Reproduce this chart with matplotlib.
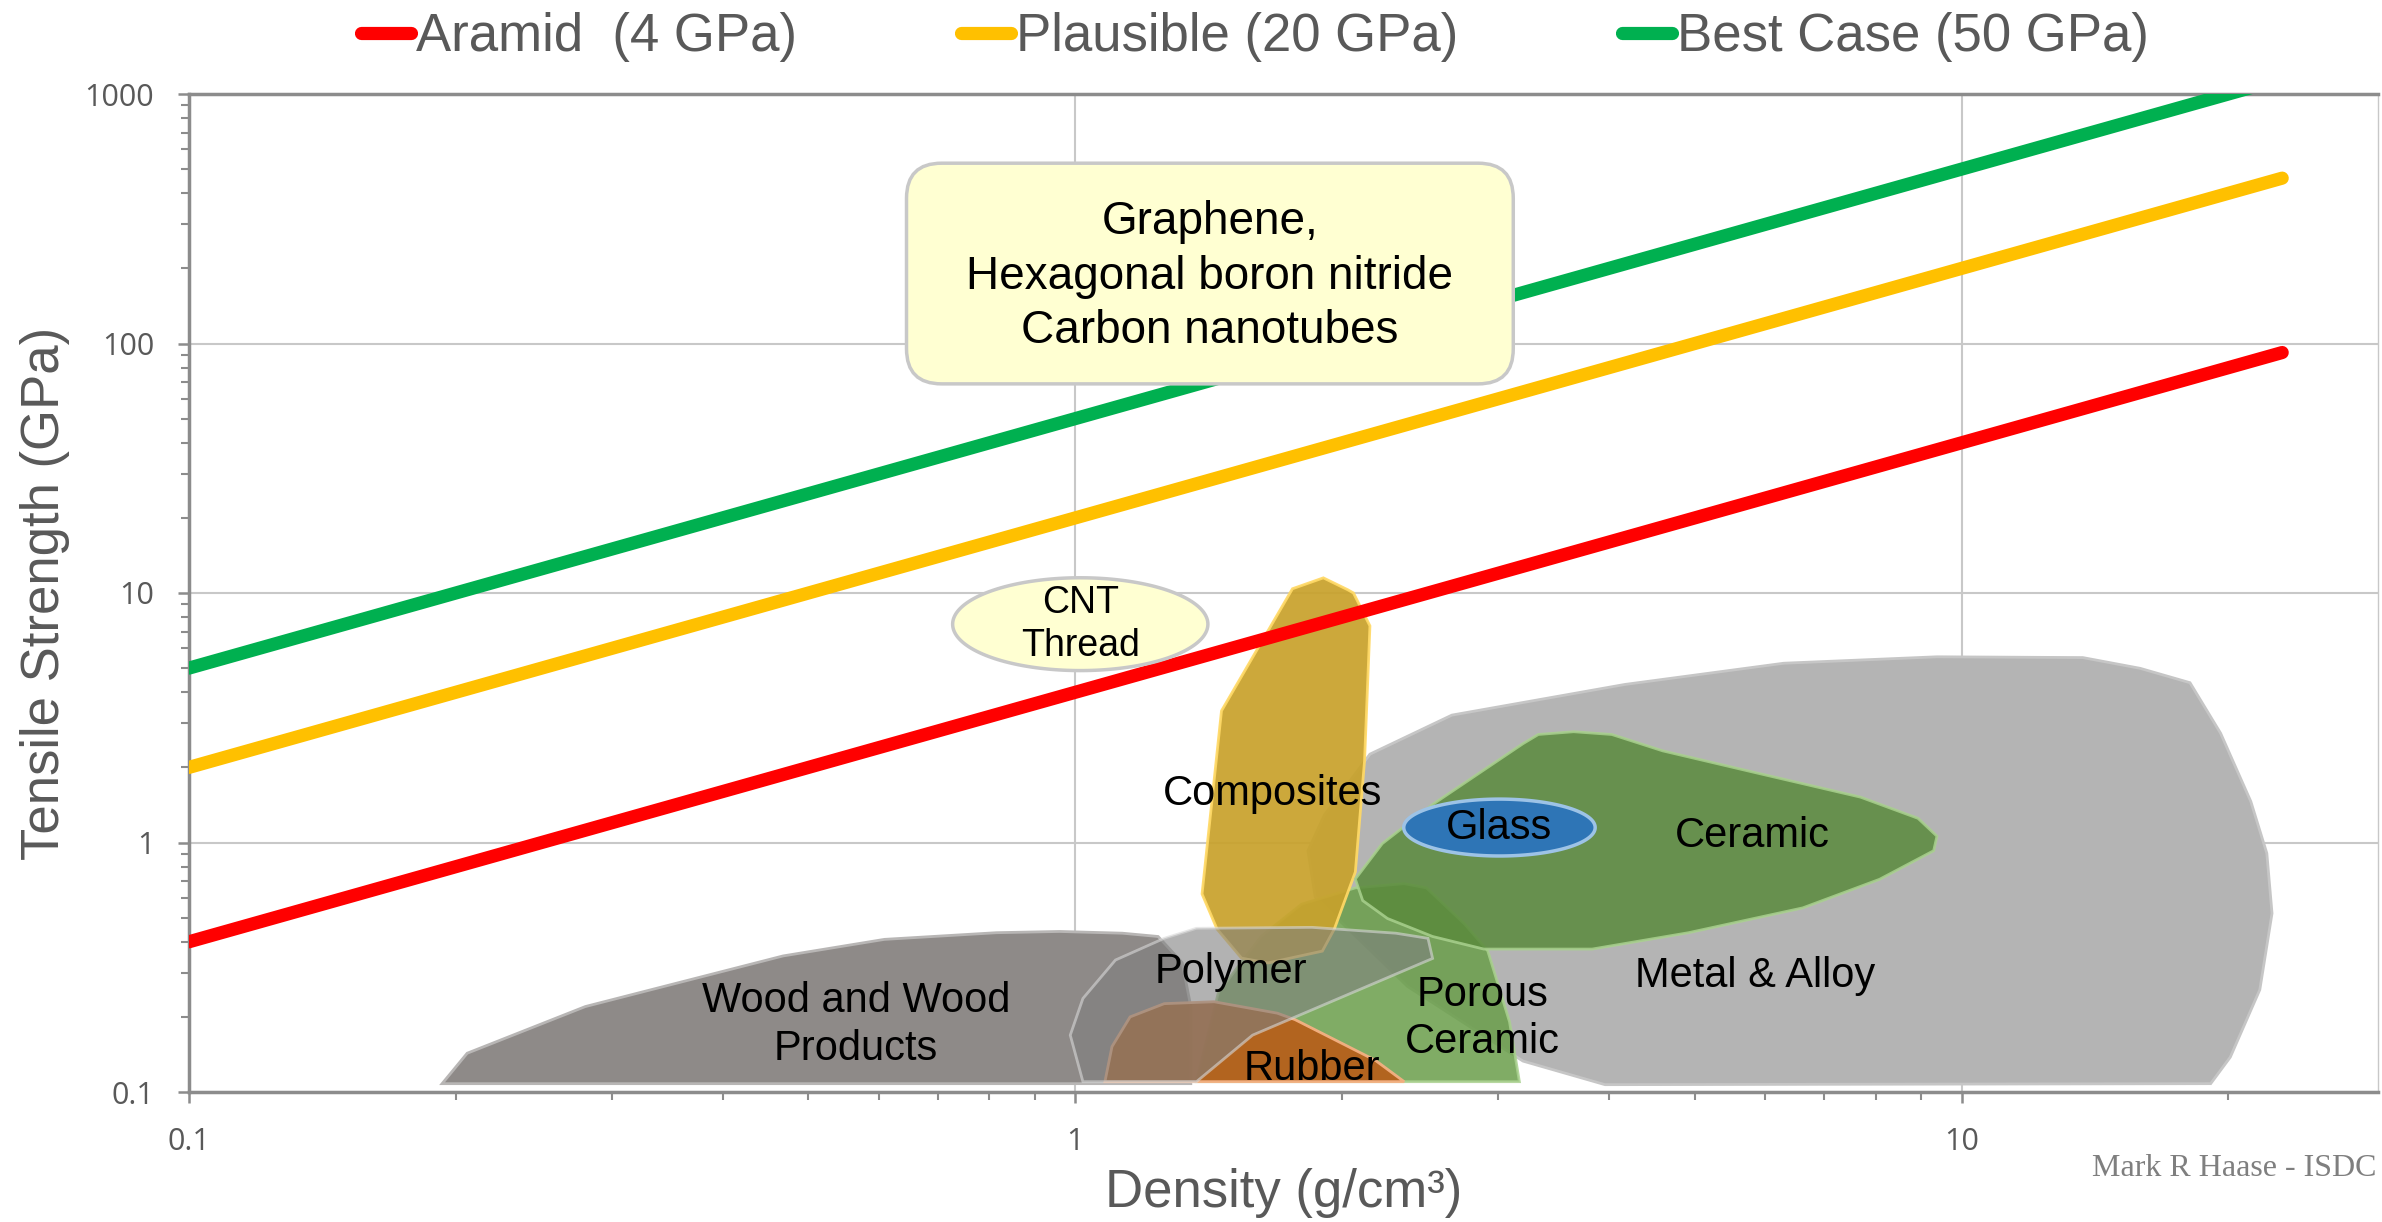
import numpy as np
import matplotlib
matplotlib.use("Agg")
from matplotlib import pyplot as plt
from matplotlib.patches import FancyBboxPatch
from matplotlib.lines import Line2D
from matplotlib.ticker import FixedLocator, LogLocator, FuncFormatter, NullFormatter

# reference lines: strength = specific strength * density
line_density = [0.1, 23]
aramid = [0.4, 92]
plausible = [2, 460]
best_case = [5, 1150]
line_names = ["Aramid  (4 GPa)", "Plausible (20 GPa)", "Best Case (50 GPa)"]

# material families, (density g/cm3, tensile strength GPa)
metal = [(2.15, 2.26), (2.66, 3.24), (4.17, 4.30), (6.30, 5.23), (9.38, 5.55), (13.7, 5.51),
         (15.9, 4.99), (18.1, 4.37), (19.6, 2.74), (21.2, 1.46), (22.1, 0.905), (22.4, 0.52),
         (21.7, 0.257), (20.1, 0.138), (19.1, 0.108), (3.96, 0.107), (3.20, 0.133),
         (2.37, 0.265), (1.865, 0.604), (1.83, 0.927), (1.91, 1.29)]
wood = [(0.193, 0.108), (0.206, 0.143), (0.28, 0.22), (0.468, 0.351), (0.609, 0.409),
        (0.815, 0.435), (0.96, 0.44), (1.13, 0.433), (1.24, 0.42), (1.32, 0.33),
        (1.35, 0.22), (1.35, 0.108)]
composites = [(1.905, 11.5), (1.758, 10.4), (1.462, 3.37), (1.39, 0.622), (1.445, 0.45),
              (1.54, 0.344), (1.65, 0.329), (1.90, 0.367), (1.96, 0.45), (2.07, 0.762),
              (2.12, 2.12), (2.15, 7.38), (2.06, 10.0), (2.03, 10.3)]
porous = [(3.17, 0.11), (3.09, 0.191), (2.92, 0.368), (2.75, 0.471), (2.49, 0.658),
          (2.35, 0.684), (2.07, 0.658), (1.80, 0.566), (1.62, 0.42), (1.45, 0.25), (1.37, 0.11)]
ceramic = [(2.07, 0.714), (2.11, 0.585), (2.25, 0.496), (2.53, 0.42), (2.89, 0.374),
           (3.83, 0.374), (4.92, 0.435), (6.62, 0.547), (8.08, 0.712), (9.3, 0.927),
           (9.38, 1.06), (8.93, 1.25), (7.69, 1.52), (5.80, 1.92), (4.60, 2.33), (4.03, 2.71),
           (3.65, 2.78), (3.33, 2.71), (3.20, 2.49), (2.53, 1.42), (2.22, 0.99)]
rubber = [(1.08, 0.11), (1.10, 0.152), (1.153, 0.2), (1.26, 0.226), (1.434, 0.23),
          (1.69, 0.207), (1.77, 0.195), (2.18, 0.134), (2.35, 0.11)]
polymer = [(1.02, 0.11), (0.987, 0.169), (1.02, 0.237), (1.11, 0.338), (1.26, 0.413),
           (1.37, 0.453), (1.85, 0.457), (2.30, 0.433), (2.50, 0.413), (2.53, 0.343),
           (1.585, 0.169), (1.37, 0.11)]

# ellipses: centre and half size in decades
glass_center = (3.01, 1.148)
glass_half = (0.108, 0.114)
cnt_center = (1.013, 7.5)
cnt_half = (0.144, 0.186)

region_labels = ["Composites", "Glass", "Ceramic", "Polymer", "Porous\nCeramic", "Rubber",
                 "Metal & Alloy", "Wood and Wood\nProducts"]
label_x = [1.67, 3.01, 5.80, 1.50, 2.88, 1.85, 5.85, 0.566]
label_y = [1.57, 1.148, 1.06, 0.303, 0.197, 0.124, 0.292, 0.186]

# graphene box corners (density, strength)
box_x = [0.645, 3.12]
box_y = [68.9, 528]

# tick labels use Open Sans, everything else names its family
plt.rcParams["font.family"] = ["Open Sans", "DejaVu Sans"]
plt.rcParams["xtick.labelsize"] = 22
plt.rcParams["ytick.labelsize"] = 22

W, H = 2382, 1222
fig = plt.figure(figsize=(W / 100, H / 100), dpi=100)
ax = fig.add_axes([189 / W, 1 - 1092 / H, (2378 - 189) / W, (1092 - 94) / H])
ax.set_xscale("log")
ax.set_yscale("log")
ax.set_xlim(0.1, 29.5)
ax.set_ylim(0.1, 1000)

gray = "#595959"
sans = "Liberation Sans"


def region(pts, fc, ec, alpha, z):
    xs = [p[0] for p in pts]
    ys = [p[1] for p in pts]
    ax.fill(xs, ys, facecolor=fc, edgecolor=ec, alpha=alpha, lw=2, zorder=z)


def ellipse(center, half, fc, ec, z):
    t = np.linspace(0, 2 * np.pi, 200)
    ex = 10 ** (np.log10(center[0]) + half[0] * np.cos(t))
    ey = 10 ** (np.log10(center[1]) + half[1] * np.sin(t))
    ax.fill(ex, ey, facecolor=fc, edgecolor=ec, lw=2.5, zorder=z)


region(metal, "#B4B4B4", "#C6C6C6", 1.0, 2)
region(wood, "#8E8A88", "#B8B6B5", 1.0, 3)
region(porous, "#6A9E4A", "#A9D18E", 0.85, 4)
region(composites, "#C8A22C", "#FFD966", 0.93, 5)
region(ceramic, "#5A8A3C", "#A9D18E", 0.85, 6)
region(rubber, "#B5601C", "#F4B183", 0.95, 7)
region(polymer, "#7F7F7F", "#D9D9D9", 0.6, 8)
ellipse(glass_center, glass_half, "#2E75B6", "#9DC3E6", 9)

colors = ["#FF0000", "#FFC000", "#00B050"]
for ys, c in zip([aramid, plausible, best_case], colors):
    ax.plot(line_density, ys, color=c, lw=9.5, solid_capstyle="round", zorder=11)

ellipse(cnt_center, cnt_half, "#FFFFD2", "#C8C8C8", 12)

for i in range(len(region_labels)):
    ax.text(label_x[i], label_y[i], region_labels[i], ha="center", va="center",
            fontsize=30, family=sans, color="black", zorder=10, linespacing=1.25)
ax.text(cnt_center[0], cnt_center[1], "CNT\nThread", ha="center", va="center",
        fontsize=27, family=sans, color="black", zorder=13, linespacing=1.25)

# graphene callout, drawn in axes fraction so the corners stay round
ax.figure.canvas.draw()
to_axes = ax.transScale + ax.transLimits
(bx0, by0) = to_axes.transform((box_x[0], box_y[0]))
(bx1, by1) = to_axes.transform((box_x[1], box_y[1]))
aspect = (2378 - 189) / (1092 - 94)
box = FancyBboxPatch((bx0, by0), bx1 - bx0, by1 - by0,
                     boxstyle="round,pad=0,rounding_size=0.016", mutation_aspect=aspect,
                     transform=ax.transAxes, facecolor="#FFFFD2", edgecolor="#C8C8C8",
                     lw=2.5, zorder=14)
ax.add_patch(box)
ax.text((bx0 + bx1) / 2, (by0 + by1) / 2 - 0.003,
        "Graphene,\nHexagonal boron nitride\nCarbon nanotubes",
        transform=ax.transAxes, ha="center", va="center", fontsize=33, family=sans,
        color="black", zorder=15, linespacing=1.3)

# axes styling
ax.grid(True, which="major", color="#C8C8C8", lw=1.5, zorder=0)
ax.set_axisbelow(True)
for s in ["left", "bottom", "top"]:
    ax.spines[s].set_color("#8C8C8C")
    ax.spines[s].set_linewidth(2.5)
ax.spines["right"].set_color("#C8C8C8")
ax.spines["right"].set_linewidth(1)

ax.xaxis.set_major_locator(FixedLocator([0.1, 1, 10]))
ax.yaxis.set_major_locator(FixedLocator([0.1, 1, 10, 100, 1000]))
ax.xaxis.set_minor_locator(LogLocator(base=10, subs=np.arange(2, 10)))
ax.yaxis.set_minor_locator(LogLocator(base=10, subs=np.arange(2, 10)))
fmt = FuncFormatter(lambda v, p: "{:g}".format(v))
ax.xaxis.set_major_formatter(fmt)
ax.yaxis.set_major_formatter(fmt)
ax.xaxis.set_minor_formatter(NullFormatter())
ax.yaxis.set_minor_formatter(NullFormatter())
ax.tick_params(which="major", direction="out", length=8, width=1.8, color="#8C8C8C")
ax.tick_params(which="minor", direction="out", length=6, width=1.5, color="#8C8C8C")
ax.tick_params(axis="both", which="major", labelsize=22, labelcolor=gray, pad=17)

ax.set_xlabel("Density (g/cm³)", fontsize=38, family=sans, color=gray)
ax.set_ylabel("Tensile Strength (GPa)", fontsize=38, family=sans, color=gray)
ax.xaxis.label.set_va("center")
ax.yaxis.label.set_va("center")
ax.xaxis.set_label_coords(0.5, -0.101)
ax.yaxis.set_label_coords(-0.066, 0.5)

handles = [Line2D([], [], color=c, lw=9.5, solid_capstyle="round") for c in colors]
ax.legend(handles, line_names, loc="lower center", bbox_to_anchor=(0.487, 1.0), ncol=3,
          frameon=False, prop={"family": sans, "size": 38}, labelcolor=gray,
          handlelength=0.95, handletextpad=0.1, columnspacing=3.1, borderaxespad=0.2)

fig.text(2377 / W, 1 - 1169 / H, "Mark R Haase - ISDC", ha="right", va="center",
         fontsize=23, family="Liberation Serif", color="#7F7F7F")

fig.savefig("out.png", dpi=100)
